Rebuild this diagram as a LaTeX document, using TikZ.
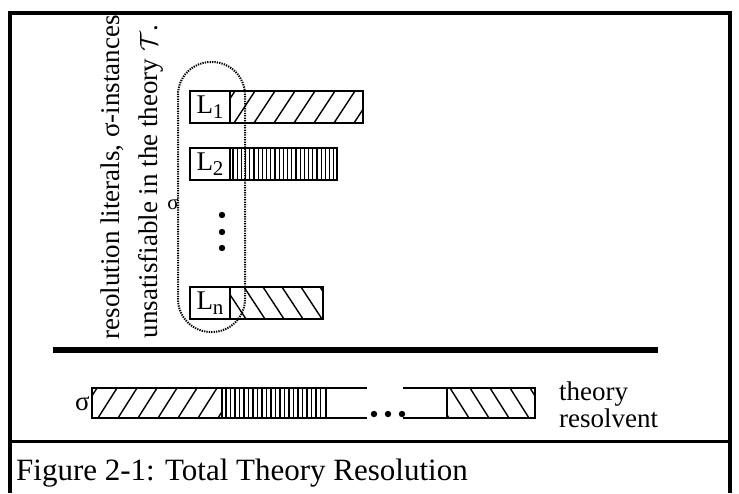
\documentclass[tikz,border=0pt]{standalone}
\usepackage{fontspec}
\setmainfont{Liberation Serif}
\usepackage{tikz}
\usetikzlibrary{positioning}
\newcommand{\litsub}[1]{\raisebox{-5pt}{\fontsize{21}{21}\selectfont #1}}
\tikzstyle{litbox}=[draw,line width=2.5pt,minimum width=40pt,minimum height=32pt,inner sep=0pt,outer sep=0pt,font=\fontsize{27}{28}\selectfont]
\tikzstyle{bar}=[draw,line width=2.5pt,minimum height=32pt,inner sep=0pt,outer sep=0pt]
\tikzstyle{seg}=[draw,line width=2.2pt,minimum height=30pt,inner sep=0pt,outer sep=0pt]
\tikzstyle{hatch}=[line width=1.4pt]

\begin{document}
\begin{tikzpicture}[x=1pt,y=-1pt,
    frame/.style={line width=3.5pt},
    loop/.style={dash pattern=on 1.3pt off 1.1pt,line width=2pt,rounded corners=33pt},
    txt/.style={inner sep=0pt,font=\fontsize{27}{28}\selectfont}]
\useasboundingbox (0,0) rectangle (739,493);
\fill[white] (0,0) rectangle (739,493);
\draw[frame] (10,493) -- (10,13) -- (730,13) -- (730,493);
\draw[line width=3pt] (10,441) -- (730,441);
\draw[line width=5.5pt] (53,350) -- (658,350);

\node[txt,rotate=90,anchor=base east] (line1) at (119,15) {resolution literals, σ-instances};
\node[txt,rotate=90,anchor=base east] (line2) at (157,25) {unsatisfiable in the theory $\mathcal{T}$.};

\node [litbox] (l1) at (210,107) {L\litsub{1}};
\node [bar,minimum width=133pt,right=0pt of l1] (b1) {};
\node [litbox] (l2) at (210,164) {L\litsub{2}};
\node [bar,minimum width=107pt,right=0pt of l2] (b2) {};
\node [litbox] (ln) at (210,303) {L\litsub{n}};
\node [bar,minimum width=93pt,right=0pt of ln] (bn) {};

\begin{scope}
    \clip (b1.south west) rectangle (b1.north east);
    \foreach \x in {214,234,...,374}
        \draw[hatch] (\x,123) -- ++(21,-32);
\end{scope}
\begin{scope}
    \clip (b2.south west) rectangle (b2.north east);
    \foreach \x in {233,237.2,...,336}
        \draw[hatch,line width=1.2pt] (\x,148) -- (\x,180);
\end{scope}
\begin{scope}
    \clip (bn.south west) rectangle (bn.north east);
    \foreach \x in {206,225,...,330}
        \draw[hatch] (\x,287) -- ++(21,32);
\end{scope}

\foreach \y in {215,232,248}
    \fill (222,\y) circle (3.2pt);

\draw[loop] (178,200) -- (178,62) -- (245,62) -- (245,332) -- (178,332) -- cycle;
\node[inner sep=0pt,font=\fontsize{21}{21}\selectfont] (sig1) at (173,204) {σ};

\node[seg,minimum width=130pt] (sa) at (157,403) {};
\node[seg,minimum width=104pt,right=0pt of sa] (sb) {};
\node[seg,minimum width=88pt] (sd) at (491,403) {};
\begin{scope}
    \clip (sa.south west) rectangle (sa.north east);
    \foreach \x in {78,98,...,230}
        \draw[hatch] (\x,418) -- ++(19,-30);
\end{scope}
\begin{scope}
    \clip (sb.south west) rectangle (sb.north east);
    \foreach \x in {226,230.5,...,324}
        \draw[hatch,line width=1.2pt] (\x,388) -- (\x,418);
\end{scope}
\begin{scope}
    \clip (sd.south west) rectangle (sd.north east);
    \foreach \x in {430,450,...,540}
        \draw[hatch] (\x,388) -- ++(19,30);
\end{scope}
\draw[line width=2.2pt] (sb.north east) -- +(41,0) (sb.south east) -- +(41,0);
\draw[line width=2.2pt] (sd.north west) -- +(-44,0) (sd.south west) -- +(-44,0);
\foreach \x in {374,388,402}
    \fill (\x,414) circle (3.2pt);

\node[txt,anchor=east] (sig2) at (90,404) {σ};
\node[txt,anchor=base west] (theory) at (559,400) {theory};
\node[txt,anchor=base west] (resolvent) at (559,427) {resolvent};

\node[inner sep=0pt,anchor=base west,font=\fontsize{31}{31}\selectfont] (caption) at (16,480) {Figure 2-1: Total Theory Resolution};
\end{tikzpicture}
\end{document}
